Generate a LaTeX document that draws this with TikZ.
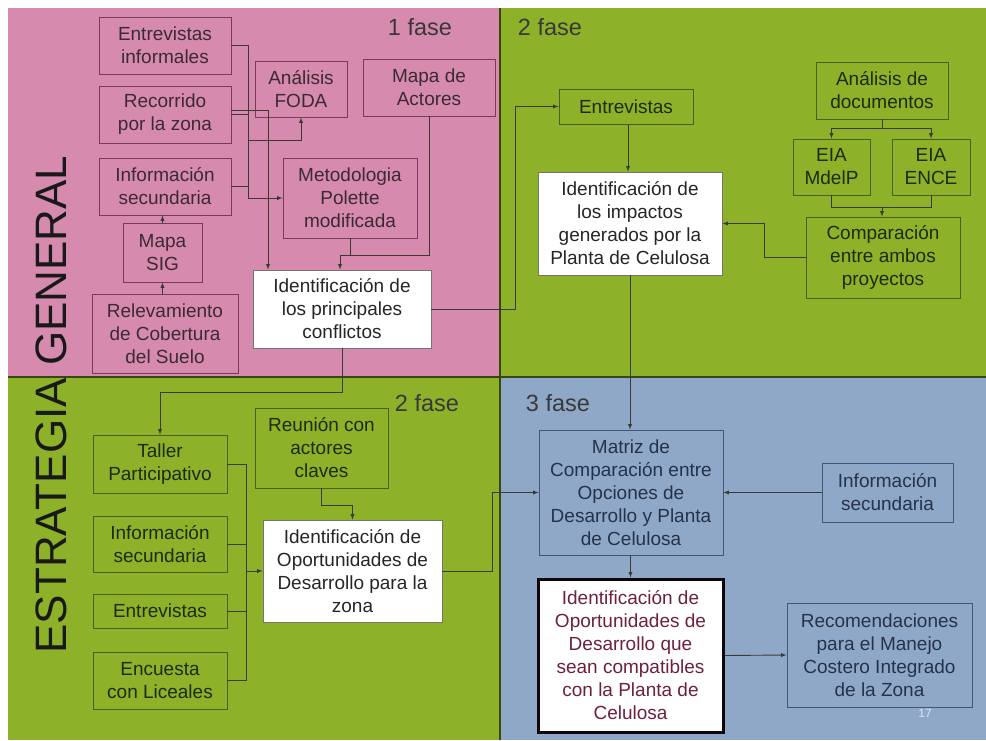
\documentclass[tikz,border=0pt]{standalone}
\usepackage{fontspec}
\setmainfont{Liberation Sans}
\usetikzlibrary{arrows}

\definecolor{rosa}{HTML}{D68AAE}
\definecolor{verde}{HTML}{8DB22A}
\definecolor{azul}{HTML}{8FA8C8}
\definecolor{bordeRosa}{HTML}{7A3A5A}
\definecolor{bordeVerde}{HTML}{46601A}
\definecolor{bordeAzul}{HTML}{3F5878}
\definecolor{textoRosa}{HTML}{3C2A33}
\definecolor{textoVerde}{HTML}{1E2A0A}
\definecolor{textoAzul}{HTML}{25334A}
\definecolor{linea}{HTML}{3A3A32}
\definecolor{granate}{HTML}{6E2040}

\begin{document}
\begin{tikzpicture}[x=1pt,y=-1pt,>=latex,
	caja/.style={line width=0.9pt, align=center, inner sep=0pt, font=\fontsize{19}{23}\selectfont},
	pcaja/.style={caja, draw=bordeRosa, text=textoRosa},
	gcaja/.style={caja, draw=bordeVerde, text=textoVerde},
	acaja/.style={caja, draw=bordeAzul, text=textoAzul},
	bcaja/.style={caja, draw=linea!70, fill=white, text=black!85},
	fase/.style={font=\fontsize{23.5}{26}\selectfont, text=black!78},
	conn/.style={draw=linea, line width=0.9pt}]
	\useasboundingbox (0,0) rectangle (986,740);
	\fill[white] (0,0) rectangle (986,740);
	% cuadrantes
	\fill[rosa] (8,8) rectangle (500,377);
	\fill[verde] (500,8) rectangle (986,377);
	\fill[verde] (8,377) rectangle (500,740);
	\fill[azul] (500,377) rectangle (986,740);
	\draw[black!60!verde, line width=1.5pt] (500,8) -- (500,740);
	\draw[black!60!verde, line width=1.5pt] (8,377) -- (986,377);

	\node[rotate=90, font=\fontsize{44}{44}\selectfont, text=black!90] (titulo) at (51.5,404.5) {ESTRATEGIA GENERAL};

	\node[fase] (f1) at (420,27) {1 fase};
	\node[fase] (f2a) at (550,27) {2 fase};
	\node[fase] (f2b) at (427,403) {2 fase};
	\node[fase] (f3) at (558,403) {3 fase};

	% 1 fase
	\node[pcaja, minimum width=132, minimum height=57] (entinf) at (165,45.5) {Entrevistas\\informales};
	\node[pcaja, minimum width=92, minimum height=56] (foda) at (301,89) {Análisis\\FODA};
	\node[pcaja, minimum width=132, minimum height=57] (mapact) at (429,87.5) {Mapa de\\Actores};
	\node[pcaja, minimum width=132, minimum height=57] (recorr) at (165,114.5) {Recorrido\\por la zona};
	\node[pcaja, minimum width=132, minimum height=57] (infsec1) at (165,186.5) {Información\\secundaria};
	\node[pcaja, minimum width=134, minimum height=80] (polette) at (350,198) {Metodologia\\Polette\\modificada};
	\node[pcaja, minimum width=79, minimum height=59] (sig) at (162.5,252.5) {Mapa\\SIG};
	\node[pcaja, minimum width=146, minimum height=79] (relev) at (165,333.5) {Relevamiento\\de Cobertura\\del Suelo};
	\node[bcaja, minimum width=178, minimum height=78] (conflic) at (342,309) {Identificación de\\los principales\\conflictos};

	\coordinate (bus1) at (248,140);
	\coordinate (c1) at (268,110);
	\coordinate (j1) at (340,255);
	\draw[conn,->] (entinf.east) -- ++(17,0) |- (polette.west);
	\draw[conn] (recorr.east) -- (recorr.east -| bus1);
	\draw[conn] (infsec1.east) -- (infsec1.east -| bus1);
	\draw[conn,->] (bus1) -| (foda.south);
	\draw[conn,->] (recorr.east |- c1) -| (conflic.north -| c1);
	\draw[conn] (polette.south) |- (j1);
	\draw[conn] (mapact.south) |- (j1);
	\draw[conn,->] (j1) -- (conflic.north -| j1);
	\draw[conn,->] (sig.north) -- (sig.north |- infsec1.south);
	\draw[conn,->] (sig.south |- relev.north) -- (sig.south);

	% 2 fase (impactos)
	\node[gcaja, minimum width=134, minimum height=35] (entrev) at (626,106.5) {Entrevistas};
	\node[bcaja, minimum width=184, minimum height=103] (impact) at (630,223.5) {Identificación de\\los impactos\\generados por la\\Planta de Celulosa};
	\node[gcaja, minimum width=132, minimum height=57] (anadoc) at (882,90.5) {Análisis de\\documentos};
	\node[gcaja, minimum width=77, minimum height=56] (mdelp) at (831.5,167) {EIA\\MdelP};
	\node[gcaja, minimum width=78, minimum height=56] (ence) at (931,167) {EIA\\ENCE};
	\node[gcaja, minimum width=154, minimum height=81] (compar) at (883,257.5) {Comparación\\entre ambos\\proyectos};

	\coordinate (j2) at (882,128);
	\coordinate (j3) at (882,207);
	\draw[conn,->] (conflic.east) -- ++(84,0) |- (entrev.west);
	\draw[conn,->] (entrev.south -| 628,0) -- (impact.north -| 628,0);
	\draw[conn] (anadoc.south) -- (j2);
	\draw[conn,->] (j2) -| (mdelp.north);
	\draw[conn,->] (j2) -| (ence.north);
	\draw[conn] (mdelp.south) |- (j3);
	\draw[conn] (ence.south) |- (j3);
	\draw[conn,->] (j3) -- (compar.north -| j3);
	\draw[conn,->] (compar.west) -- ++(-41,0) |- (impact.east);

	% 2 fase (oportunidades)
	\node[gcaja, minimum width=134, minimum height=58] (taller) at (160,464) {Taller\\Participativo};
	\node[gcaja, minimum width=134, minimum height=56] (infsec2) at (160,544) {Información\\secundaria};
	\node[gcaja, minimum width=134, minimum height=34] (entrev2) at (160,611) {Entrevistas};
	\node[gcaja, minimum width=134, minimum height=57] (encuesta) at (160,680.5) {Encuesta\\con Liceales};
	\node[gcaja, minimum width=133, minimum height=80] (reunion) at (321.5,448) {Reunión con\\actores\\claves};
	\node[bcaja, minimum width=179, minimum height=102] (oportun) at (352.5,571) {Identificación de\\Oportunidades de\\Desarrollo para la\\zona};

	\coordinate (bus2) at (246,571);
	\coordinate (j4) at (352.5,505);
	\draw[conn,->] (conflic.south) -- ++(0,44) -| (taller.north);
	\draw[conn] (taller.east) -| (encuesta.east -| bus2) -- (encuesta.east);
	\draw[conn] (infsec2.east) -- (infsec2.east -| bus2);
	\draw[conn] (entrev2.east) -- (entrev2.east -| bus2);
	\draw[conn,->] (bus2) -- (oportun.west);
	\draw[conn,->] (reunion.south) |- (j4) -- (oportun.north);

	% 3 fase
	\node[acaja, minimum width=184, minimum height=125] (matriz) at (631,492.5) {Matriz de\\Comparación entre\\Opciones de\\Desarrollo y Planta\\de Celulosa};
	\node[acaja, minimum width=131, minimum height=59] (infsec3) at (887.5,492.5) {Información\\secundaria};
	\node[caja, draw=black!85!granate, line width=3pt, fill=white, text=granate, minimum width=185, minimum height=153] (compat) at (630.5,655.5) {Identificación de\\Oportunidades de\\Desarrollo que\\sean compatibles\\con la Planta de\\Celulosa};
	\node[acaja, minimum width=185, minimum height=104] (recom) at (879.5,655) {Recomendaciones\\para el Manejo\\Costero Integrado\\de la Zona};
	\node[font=\fontsize{12}{12}\selectfont, text=white!70!azul] (pag) at (925,713) {17};

	\draw[conn,->] (impact.south) -- (impact.south |- matriz.north);
	\draw[conn,->] (oportun.east) -- ++(50,0) |- (matriz.west);
	\draw[conn,->] (infsec3.west) -- (matriz.east);
	\draw[conn,->] (matriz.south -| compat.north) -- (compat.north);
	\draw[conn,->] (compat.east) -- (recom.west);
\end{tikzpicture}
\end{document}
